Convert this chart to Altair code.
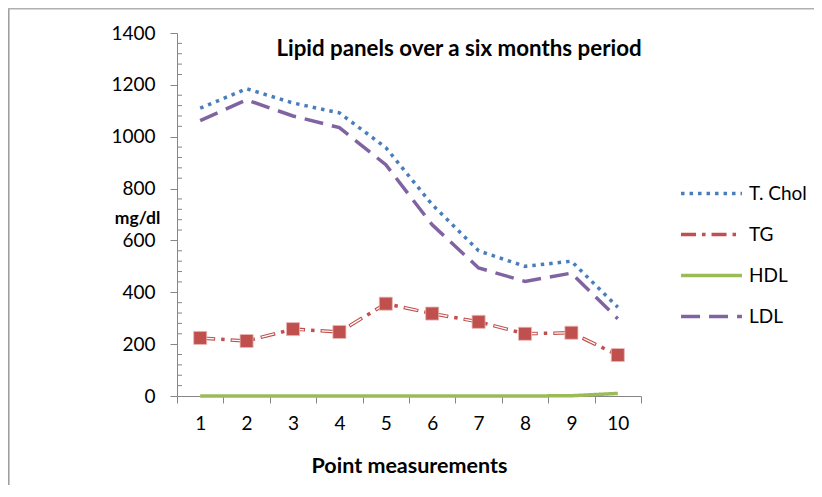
import altair as alt
import pandas as pd

points = [1, 2, 3, 4, 5, 6, 7, 8, 9, 10]
tchol = [1110, 1185, 1130, 1092, 958, 738, 560, 500, 520, 342]
tg = [224, 212, 258, 247, 356, 318, 286, 240, 244, 158]
hdl = [0, 0, 0, 0, 0, 0, 0, 0, 1, 10]
ldl = [1062, 1142, 1080, 1035, 892, 660, 494, 442, 474, 298]
series = ["T. Chol", "TG", "HDL", "LDL"]
colors = ["#4a7ebb", "#c0504d", "#9bbb59", "#8064a2"]
minor_ticks = [v for v in range(40, 1400, 40) if v % 200 != 0]

rows = []
for name, vals in zip(series, [tchol, tg, hdl, ldl]):
    for p, v in zip(points, vals):
        rows.append({"point": p, "value": v, "series": name})
df = pd.DataFrame(rows)
tg_df = df[df.series == "TG"]
minor_df = pd.DataFrame({"m": minor_ticks})
one = pd.DataFrame({"k": [0]})

FONT = "Lato"
DASHES = [[3.5, 5], [15, 6, 3.5, 6], [1, 0], [19, 9]]

x = alt.X("point:O", title="Point measurements",
          scale=alt.Scale(type="band", paddingInner=0, paddingOuter=0),
          axis=alt.Axis(labelAngle=0, tickBand="extent", tickSize=7, labelPadding=11,
                        titleY=70, titleBaseline="middle", titleFontSize=21.5))
y = alt.Y("value:Q", title="mg/dl",
          scale=alt.Scale(domain=[0, 1400]),
          axis=alt.Axis(values=list(range(0, 1401, 200)), format="d", tickSize=7, labelPadding=15,
                        titleAngle=0, titleX=-40, titleY=185, titleAlign="center",
                        titleBaseline="middle", titleFontSize=17.5))

leg = dict(title=None, orient="none", legendX=512, legendY=138,
           symbolType="M-1.5,0H1.5", symbolSize=1650,
           symbolStrokeWidth=3.5, labelOffset=15, rowPadding=8,
           labelFontSize=19, labelFont=FONT, labelColor="#000")

lines = alt.Chart(df).mark_line(strokeWidth=3.5).encode(
    x=x, y=y,
    color=alt.Color("series:N", scale=alt.Scale(domain=series, range=colors),
                    legend=alt.Legend(**leg)),
    strokeDash=alt.StrokeDash("series:N",
                              scale=alt.Scale(domain=series, range=DASHES),
                              legend=alt.Legend(**leg)),
    order="point:O",
)

tg_inner = alt.Chart(tg_df).mark_line(strokeWidth=1.3, color="white",
                                      strokeDash=[13, 17.5], strokeDashOffset=-1).encode(
    x=x, y=y, order="point:O")

tg_pts = alt.Chart(tg_df).mark_square(size=170, color="#c0504d", opacity=1,
                                      stroke="#e8b8b6", strokeWidth=0.8).encode(x=x, y=y)

minor = alt.Chart(minor_df).mark_rule(color="#868686", strokeWidth=1).encode(
    y=alt.Y("m:Q"), x=alt.value(0), x2=alt.value(5))

border_l = alt.Chart(one).mark_rule(color="#9a9a9a", strokeWidth=1.5).encode(
    x=alt.value(-168.2), y=alt.value(-25), y2=alt.value(480))
border_t = alt.Chart(one).mark_rule(color="#b0b0b0", strokeWidth=1.5).encode(
    x=alt.value(-169), x2=alt.value(650), y=alt.value(-24.2))

chart = alt.layer(border_l, border_t, minor, lines, tg_inner, tg_pts).properties(
    width=464, height=363,
    background="white",
    autosize=alt.AutoSizeParams(type="none"),
    padding={"left": 169, "top": 25, "right": 173, "bottom": 89},
    title=alt.TitleParams("Lipid panels over a six months period", anchor="middle",
                          frame="group", dx=50, dy=76, offset=0, baseline="bottom",
                          font=FONT, fontSize=22.3, fontWeight="bold", color="#000"),
).configure_view(stroke=None).configure_axis(
    domainColor="#868686", tickColor="#868686", grid=False,
    labelFont=FONT, labelFontSize=19, labelColor="#000",
    titleFont=FONT, titleFontWeight="bold", titleColor="#000",
)

chart.save("out.html", embed_options={"renderer": "svg", "actions": False})
